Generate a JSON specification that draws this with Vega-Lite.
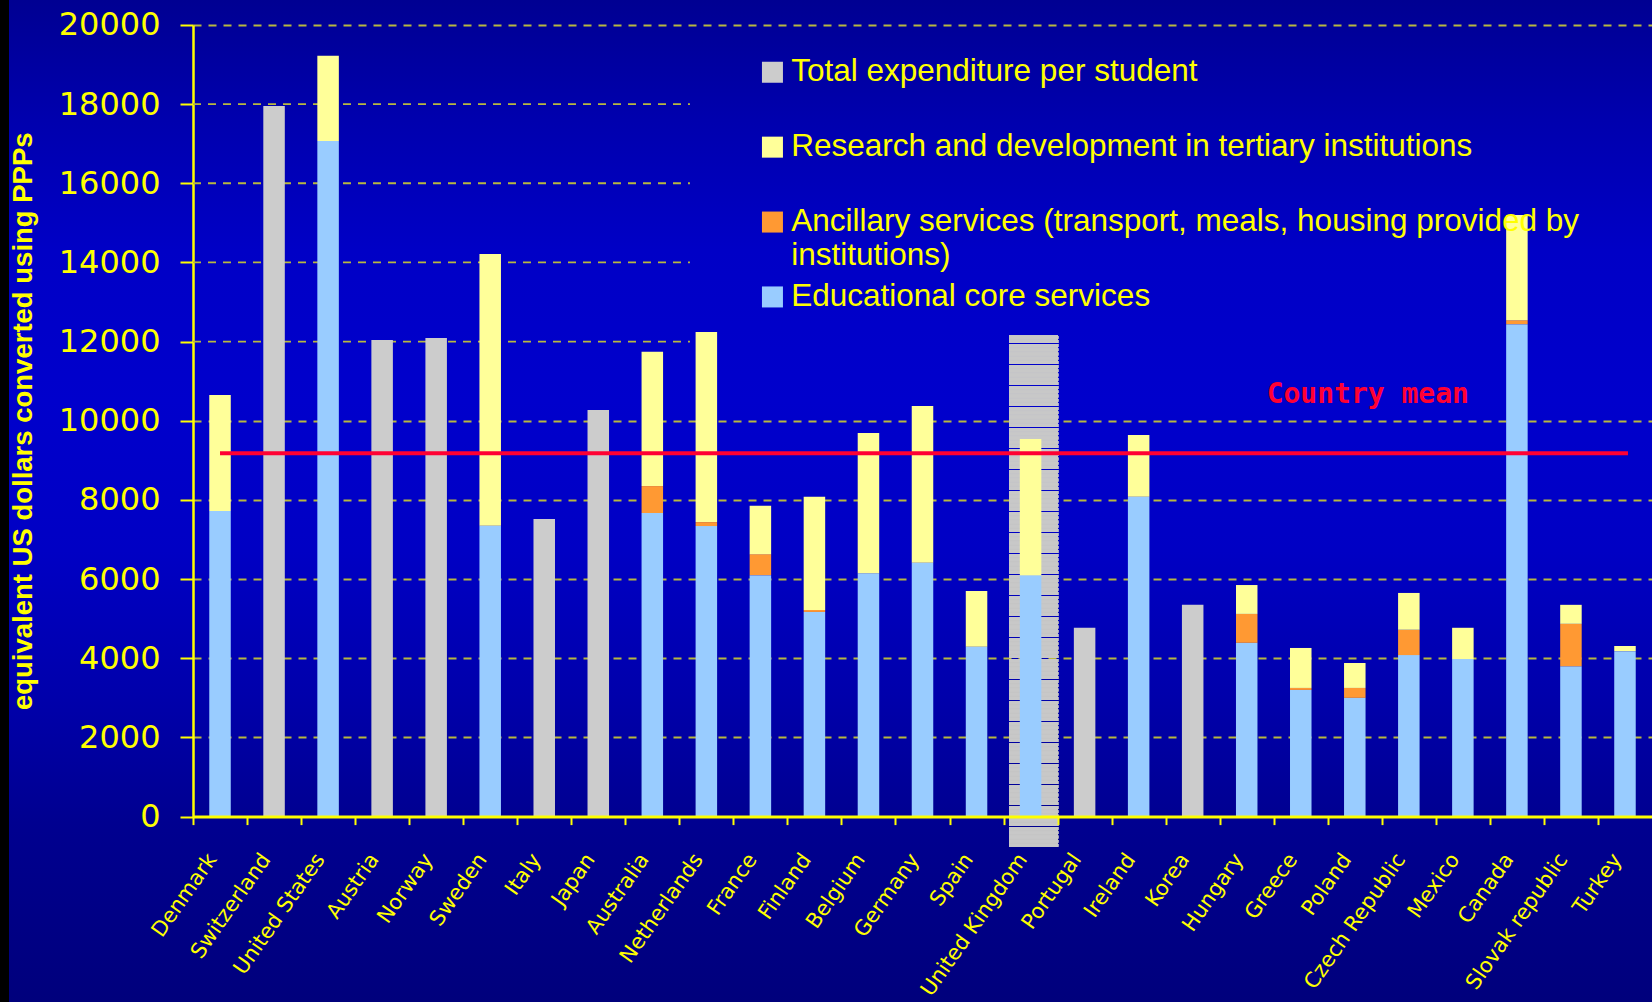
{
  "$schema": "https://vega.github.io/schema/vega-lite/v6.json",
  "width": 1643,
  "height": 1002,
  "autosize": {"type": "none"},
  "padding": {"left": 9, "top": 0, "right": 0, "bottom": 0},
  "background": "#000000",
  "config": {
    "view": {
      "stroke": null,
      "fill": {
        "gradient": "linear", "x1": 0, "y1": 0, "x2": 0, "y2": 1,
        "stops": [
          {"offset": 0, "color": "#000092"},
          {"offset": 0.12, "color": "#0000AE"},
          {"offset": 0.25, "color": "#0000C6"},
          {"offset": 0.4, "color": "#0000CC"},
          {"offset": 0.55, "color": "#0000C4"},
          {"offset": 0.7, "color": "#0000AA"},
          {"offset": 0.82, "color": "#000090"},
          {"offset": 1, "color": "#00007C"}
        ]
      }
    }
  },
  "data": {
    "values": [
      {"country": "Denmark", "core": 7720, "core_and_ancillary": 7720, "total": 10650},
      {"country": "Switzerland", "total_unsplit": 17950},
      {"country": "United States", "core": 17070, "core_and_ancillary": 17070, "total": 19220},
      {"country": "Austria", "total_unsplit": 12040},
      {"country": "Norway", "total_unsplit": 12090},
      {"country": "Sweden", "core": 7350, "core_and_ancillary": 7350, "total": 14210},
      {"country": "Italy", "total_unsplit": 7520},
      {"country": "Japan", "total_unsplit": 10270},
      {"country": "Australia", "core": 7670, "core_and_ancillary": 8350, "total": 11740},
      {"country": "Netherlands", "core": 7340, "core_and_ancillary": 7440, "total": 12240},
      {"country": "France", "core": 6100, "core_and_ancillary": 6630, "total": 7850},
      {"country": "Finland", "core": 5170, "core_and_ancillary": 5220, "total": 8080},
      {"country": "Belgium", "core": 6150, "core_and_ancillary": 6150, "total": 9690},
      {"country": "Germany", "core": 6410, "core_and_ancillary": 6410, "total": 10370},
      {"country": "Spain", "core": 4290, "core_and_ancillary": 4290, "total": 5700},
      {"country": "United Kingdom", "core": 6100, "core_and_ancillary": 6100, "total": 9540},
      {"country": "Portugal", "total_unsplit": 4770},
      {"country": "Ireland", "core": 8080, "core_and_ancillary": 8080, "total": 9640},
      {"country": "Korea", "total_unsplit": 5350},
      {"country": "Hungary", "core": 4390, "core_and_ancillary": 5120, "total": 5850},
      {"country": "Greece", "core": 3200, "core_and_ancillary": 3250, "total": 4260},
      {"country": "Poland", "core": 3000, "core_and_ancillary": 3250, "total": 3880},
      {"country": "Czech Republic", "core": 4080, "core_and_ancillary": 4720, "total": 5650},
      {"country": "Mexico", "core": 3980, "core_and_ancillary": 3980, "total": 4770},
      {"country": "Canada", "core": 12440, "core_and_ancillary": 12540, "total": 15200},
      {"country": "Slovak republic", "core": 3800, "core_and_ancillary": 4870, "total": 5350},
      {"country": "Turkey", "core": 4180, "core_and_ancillary": 4180, "total": 4310}
    ]
  },
  "layer": [
    {
      "mark": {"type": "rule", "strokeWidth": 49, "strokeDash": [3.1, 1.1], "strokeCap": "butt", "color": "#C8C8C8", "xOffset": 3},
      "encoding": {
        "x": {"datum": "United Kingdom", "type": "nominal"},
        "y": {"datum": 12150, "type": "quantitative"},
        "y2": {"datum": -760}
      }
    },
    {
      "data": {"values": [{"grid": 12000}, {"grid": 14000}, {"grid": 16000}, {"grid": 18000}]},
      "mark": {"type": "rule", "strokeWidth": 1.8, "strokeDash": [8, 7], "color": "#B8B840", "xOffset": -27.02, "x2Offset": -16.4},
      "encoding": {
        "x": {"datum": "Denmark", "type": "nominal"},
        "x2": {"datum": "Netherlands"},
        "y": {"field": "grid", "type": "quantitative"}
      }
    },
    {
      "mark": {"type": "bar"},
      "encoding": {
        "x": {
          "field": "country", "type": "nominal",
          "scale": {
            "domain": ["Denmark", "Switzerland", "United States", "Austria", "Norway", "Sweden", "Italy", "Japan", "Australia", "Netherlands", "France", "Finland", "Belgium", "Germany", "Spain", "United Kingdom", "Portugal", "Ireland", "Korea", "Hungary", "Greece", "Poland", "Czech Republic", "Mexico", "Canada", "Slovak republic", "Turkey"],
            "range": [184, 1643],
            "paddingInner": 0.602,
            "paddingOuter": 0.301
          },
          "axis": {
            "title": null,
            "orient": "bottom",
            "offset": -185.4,
            "labelAngle": -55,
            "labelAlign": "right",
            "labelBaseline": "middle",
            "labelFont": "DejaVu Sans",
            "labelFontSize": 21,
            "labelColor": "#FFFF00",
            "labelPadding": 31,
            "labelOffset": 19,
            "labelOverlap": false,
            "labelLimit": 400,
            "tickOffset": -27.02,
            "tickColor": "#FFFF00",
            "tickSize": 8,
            "tickWidth": 2,
            "domainColor": "#FFFF00",
            "domainWidth": 3,
            "grid": false,
            "zindex": 1
          }
        },
        "y": {
          "field": "total_unsplit", "type": "quantitative",
          "scale": {"domain": [0, 20000], "range": [816.6, 24.9], "nice": false, "zero": true},
          "axis": {
            "title": "equivalent US dollars converted using PPPs",
            "orient": "left",
            "offset": -184,
            "values": [0, 2000, 4000, 6000, 8000, 10000, 12000, 14000, 16000, 18000, 20000],
            "format": "d",
            "labelFont": "DejaVu Sans",
            "labelFontSize": 32,
            "labelColor": "#FFFF00",
            "labelPadding": 20,
            "labelOverlap": false,
            "labelFlush": false,
            "tickColor": "#FFFF00",
            "tickSize": 13,
            "tickWidth": 2,
            "domainColor": "#FFFF00",
            "domainWidth": 2.5,
            "grid": true,
            "gridColor": "#B8B840",
            "gridWidth": 1.8,
            "gridDash": [8, 7],
            "gridOpacity": {"condition": {"test": "(datum.value > 11000 && datum.value < 19000) || datum.value == 0", "value": 0}, "value": 1},
            "titleFont": "Liberation Sans",
            "titleFontWeight": "bold",
            "titleFontSize": 27.5,
            "titleColor": "#FFFF00",
            "titlePadding": 21
          }
        },
        "color": {
          "datum": "Total expenditure per student", "type": "nominal",
          "scale": {
            "domain": ["Total expenditure per student", "Research and development in tertiary institutions", "Ancillary services (transport, meals, housing provided by institutions)", "Educational  core services"],
            "range": ["#CCCCCC", "#FFFF99", "#FF9933", "#99CCFF"]
          },
          "legend": {
            "title": null,
            "orient": "none",
            "legendX": 747.7,
            "legendY": 56.5,
            "direction": "vertical",
            "symbolType": "square",
            "symbolSize": 441,
            "symbolStrokeWidth": 0,
            "symbolOpacity": 1,
            "labelFont": "Liberation Sans",
            "labelFontSize": 31.5,
            "labelColor": "#FFFF00",
            "labelLimit": 1200,
            "labelOffset": 3,
            "rowPadding": 8.9,
            "padding": 0,
            "offset": 0,
            "labelExpr": "datum.label === 'Ancillary services (transport, meals, housing provided by institutions)' ? ['Ancillary services (transport, meals, housing provided by', 'institutions)'] : [datum.label, '']"
          }
        }
      }
    },
    {
      "mark": {"type": "bar"},
      "encoding": {
        "x": {"field": "country", "type": "nominal"},
        "y": {"field": "core", "type": "quantitative"},
        "color": {"datum": "Educational  core services", "type": "nominal"}
      }
    },
    {
      "mark": {"type": "bar"},
      "encoding": {
        "x": {"field": "country", "type": "nominal"},
        "y": {"field": "core", "type": "quantitative"},
        "y2": {"field": "core_and_ancillary"},
        "color": {"datum": "Ancillary services (transport, meals, housing provided by institutions)", "type": "nominal"}
      }
    },
    {
      "mark": {"type": "bar"},
      "encoding": {
        "x": {"field": "country", "type": "nominal"},
        "y": {"field": "core_and_ancillary", "type": "quantitative"},
        "y2": {"field": "total"},
        "color": {"datum": "Research and development in tertiary institutions", "type": "nominal"}
      }
    },
    {
      "data": {"values": [{"mean": 9180, "label": "Country mean"}]},
      "layer": [
        {
          "mark": {"type": "rule", "color": "#FF0033", "strokeWidth": 4, "x2Offset": 3},
          "encoding": {
            "x": {"datum": "Denmark", "type": "nominal"},
            "x2": {"datum": "Turkey"},
            "y": {"field": "mean", "type": "quantitative"}
          }
        },
        {
          "mark": {"type": "text", "color": "#FF0033", "font": "DejaVu Sans Mono", "fontWeight": "bold", "fontSize": 28, "align": "center", "baseline": "alphabetic", "dx": 13, "dy": -50},
          "encoding": {
            "x": {"datum": "Poland", "type": "nominal"},
            "y": {"field": "mean", "type": "quantitative"},
            "text": {"field": "label"}
          }
        }
      ]
    }
  ]
}
